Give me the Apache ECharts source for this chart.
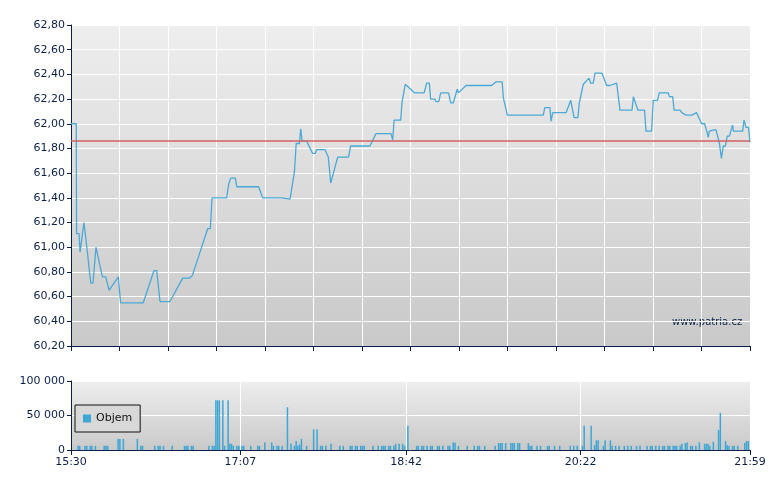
<!DOCTYPE html>
<html><head><meta charset="utf-8">
<script src="https://cdn.jsdelivr.net/npm/echarts@6/dist/echarts.min.js"></script>
<style>html,body{margin:0;background:#fff}#c{width:780px;height:490px}</style>
</head><body><div id="c"></div>
<script>
// minutes after 15:30
const priceMinutes = [0,3,3.2,4.6,5.2,7.4,9,10,11.3,12.6,14.3,18,19.9,21.8,27.1,28.4,41.4,47.5,49.1,51,56.7,64,68,69.5,78.3,79.8,80.8,89.2,90.3,91.5,94.1,95,107.5,109.8,120.7,125.5,128,129,130.9,131.6,132.4,135,138.4,140,140.7,145.5,147.4,148.8,152.8,159,160.2,171.3,174.7,183.3,184.3,185.1,188.9,189.6,190.3,191.5,196.9,202.3,203.8,205.3,206,208.5,209.1,210.7,211.8,216.3,217.5,219,221.3,222,226.3,241,243.5,247,247.7,250,270.6,271.4,274.4,275,276,283.6,286.3,288.2,290.4,291.2,292.3,293.5,296.8,297.7,299.2,300.2,304.2,306.9,308.8,312.6,314.5,321.4,322.2,323.2,324.8,328.6,329.4,332.6,333.6,336,337,342.2,342.8,344.7,345.5,348.9,349.9,352.4,355.6,358.4,359.4,361.3,363,364.2,365.1,365.7,368.3,369.5,371.4,372.6,373.7,374.9,376,377.2,379,379.5,384.8,385.6,386.8,388.1,389];
const prices = [62.0,62.0,61.11,61.11,60.96,61.20,61.01,61.01,60.71,60.71,61.00,60.76,60.76,60.65,60.76,60.55,60.55,60.81,60.81,60.56,60.56,60.75,60.75,60.77,61.15,61.15,61.40,61.40,61.51,61.56,61.56,61.49,61.49,61.40,61.40,61.39,61.61,61.84,61.84,61.96,61.86,61.86,61.76,61.76,61.79,61.79,61.73,61.52,61.73,61.73,61.82,61.82,61.92,61.92,61.87,62.03,62.03,62.17,62.17,62.32,62.25,62.25,62.33,62.33,62.20,62.20,62.18,62.18,62.25,62.25,62.17,62.17,62.28,62.25,62.31,62.31,62.34,62.34,62.21,62.07,62.07,62.13,62.13,62.02,62.09,62.09,62.19,62.05,62.05,62.17,62.17,62.32,62.37,62.33,62.33,62.41,62.41,62.31,62.31,62.33,62.11,62.11,62.22,62.22,62.11,62.11,61.94,61.94,62.19,62.19,62.25,62.25,62.22,62.22,62.11,62.11,62.09,62.07,62.07,62.09,62.09,62.00,62.00,61.94,61.89,61.94,61.95,61.95,61.85,61.72,61.82,61.82,61.90,61.90,61.99,61.94,61.94,62.03,61.97,61.97,61.85];
const referencePrice = 61.86;
const volMinutes = [4,5,8,9,11,12,14,19,20,21,27,28,30,38,40,41,48,50,51,53,58,65,66,67,69,70,79,81,82,83,84,85,87,88,90,91,92,93,95,96,97,98,99,103,107,108,111,115,116,118,119,121,124,126,128,129,130,131,132,135,139,141,143,144,146,149,154,156,160,161,163,164,166,167,168,173,176,178,179,180,182,183,185,186,188,190,191,193,198,199,201,202,204,206,207,210,211,213,216,217,219,220,222,227,231,233,234,237,243,245,246,247,249,252,253,254,256,257,262,263,264,267,269,273,274,277,280,286,288,290,293,294,298,300,301,302,305,306,309,310,312,314,317,319,321,324,326,330,332,333,335,337,339,340,342,343,345,346,347,349,350,352,353,355,356,358,360,363,364,365,366,368,371,372,375,376,377,379,380,382,386,387,388,389];
const volumes = [6000,6000,6000,6000,6000,6000,6000,6000,6000,6000,16000,16000,16000,16000,6000,6000,6000,6000,6000,6000,6000,6000,6000,6000,6000,6000,6000,6000,6000,72000,72000,72000,72000,6000,72000,9000,9000,6000,6000,6000,6000,6000,6000,6000,6000,6000,11000,11000,6000,6000,6000,6000,62000,9000,6000,13000,6000,8000,16000,6000,30000,30000,6000,6000,6000,9000,6000,6000,6000,6000,6000,6000,6000,6000,6000,6000,6000,6000,6000,6000,6000,6000,6000,9000,9000,9000,6000,35000,6000,6000,6000,6000,6000,6000,6000,6000,6000,6000,6000,6000,11000,11000,6000,6000,6000,6000,6000,6000,6000,10000,10000,10000,10000,10000,10000,10000,10000,10000,10000,6000,6000,6000,6000,6000,6000,6000,6000,6000,6000,6000,6000,35000,35000,7000,14000,14000,6000,14000,14000,6000,6000,6000,6000,6000,6000,6000,6000,6000,6000,6000,6000,6000,6000,6000,6000,6000,6000,6000,6000,6000,9000,10000,11000,6000,6000,6000,11000,9000,9000,9000,6000,12000,29000,54000,13000,7000,6000,6000,6000,6000,10000,13000,13000];
const bottomTicks = [0,97,192,292,389];
const bottomLabels = ['15:30','17:07','18:42','20:22','21:59'];

const navy = '#0b1f4b';
const bg = {type:'linear',x:0,y:0,x2:0,y2:1,colorStops:[{offset:0,color:'#eeeeee'},{offset:1,color:'#c9c9c9'}]};
const chart = echarts.init(document.getElementById('c'), null, {renderer:'canvas'});
chart.setOption({
  animation:false,
  textStyle:{fontFamily:'DejaVu Sans'},
  grid:[
    {left:71,top:25,width:679,height:321,show:true,backgroundColor:bg,borderWidth:0},
    {left:71,top:381,width:679,height:69,show:true,backgroundColor:bg,borderWidth:0}
  ],
  legend:{data:['Objem'],left:75,top:405,width:50,orient:'vertical',padding:[8,8,8,8],
    backgroundColor:'#d8d8d8',borderColor:'#111',borderWidth:1,borderRadius:0,
    itemWidth:8,itemHeight:8,itemGap:4,icon:'rect',
    textStyle:{color:'#111',fontSize:11,fontFamily:'DejaVu Sans'}},
  graphic:[{type:'text',left:672,top:317,style:{text:'www.patria.cz',fill:navy,font:'10px DejaVu Sans'}}],
  xAxis:[
    {type:'value',gridIndex:0,min:0,max:389,interval:389/14,
      axisLine:{lineStyle:{color:navy}},axisTick:{show:true,length:5,lineStyle:{color:navy}},
      axisLabel:{show:false},splitLine:{show:true,lineStyle:{color:'#ffffff',width:1}}},
    {type:'value',gridIndex:1,min:0,max:389,
      axisLine:{lineStyle:{color:navy}},
      axisTick:{show:true,length:5,lineStyle:{color:navy},customValues:bottomTicks},
      axisLabel:{color:navy,fontSize:11,customValues:bottomTicks,margin:7,
        formatter:v=>bottomLabels[bottomTicks.indexOf(Math.round(v))]||''},
      splitLine:{show:false}}
  ],
  yAxis:[
    {type:'value',gridIndex:0,min:60.2,max:62.8,interval:0.2,
      axisLine:{show:true,lineStyle:{color:navy}},axisTick:{show:true,length:4,lineStyle:{color:navy}},
      axisLabel:{color:navy,fontSize:11,margin:6,formatter:v=>v.toFixed(2).replace('.',',')},
      splitLine:{lineStyle:{color:'#ffffff',width:1}}},
    {type:'value',gridIndex:1,min:0,max:100000,interval:50000,
      axisLine:{show:true,lineStyle:{color:navy}},axisTick:{show:true,length:4,lineStyle:{color:navy}},
      axisLabel:{color:navy,fontSize:11,margin:6,formatter:v=>v===0?'0':String(v).replace(/\B(?=(\d{3})+(?!\d))/g,' ')},
      splitLine:{lineStyle:{color:'#ffffff',width:1}}}
  ],
  series:[
    {type:'line',xAxisIndex:0,yAxisIndex:0,data:priceMinutes.map((m,i)=>[m,prices[i]]),
      showSymbol:false,lineStyle:{color:'#4aa9d6',width:1.3},
      markLine:{silent:true,symbol:'none',label:{show:false},
        lineStyle:{color:'#d06060',type:'solid',width:1.5},data:[{yAxis:referencePrice}]}},
    {name:'Objem',type:'bar',xAxisIndex:1,yAxisIndex:1,barWidth:1.5,
      itemStyle:{color:'#3ea6d5'},data:volMinutes.map((m,i)=>[m,volumes[i]]),
      markLine:{silent:true,symbol:'none',label:{show:false},
        lineStyle:{color:'#ffffff',type:'solid',width:1},data:[{xAxis:97},{xAxis:192},{xAxis:292}]}}
  ]
});
</script></body></html>
